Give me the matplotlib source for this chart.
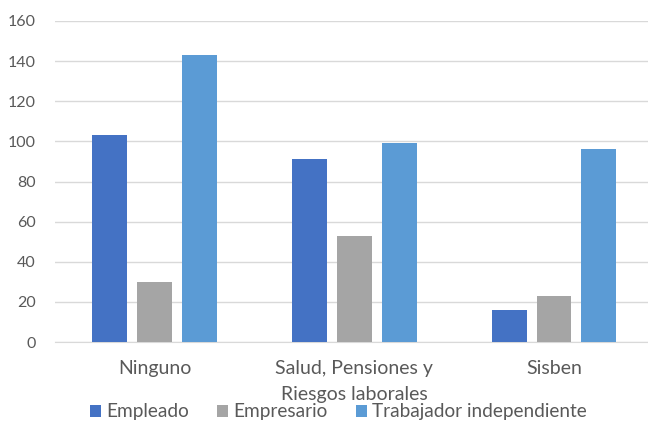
import matplotlib.pyplot as plt
import numpy as np

categorias = ['Ninguno', 'Salud, Pensiones y\nRiesgos laborales', 'Sisben']
series = ['Empleado', 'Empresario', 'Trabajador independiente']
empleado = [103, 91, 16]
empresario = [30, 53, 23]
independiente = [143, 99, 96]
colores = ['#4472C4', '#A5A5A5', '#5B9BD5']

plt.rcParams['font.family'] = ['Lato', 'DejaVu Sans']

fig = plt.figure(figsize=(6.48, 4.22), dpi=100)
ax = fig.add_axes([55 / 648, 1 - 342 / 422, (653.8 - 55) / 648, (342 - 21) / 422])

x = np.arange(len(categorias))
ancho = 0.175
paso = 0.225
for i, (nombre, vals) in enumerate(zip(series, [empleado, empresario, independiente])):
    ax.bar(x + (i - 1) * paso, vals, ancho, color=colores[i], label=nombre, zorder=3)

ax.set_xlim(-0.5, 2.5)
ax.set_ylim(0, 160)
ax.set_yticks(range(0, 161, 20))
ax.set_xticks(x)
ax.set_xticklabels(categorias, linespacing=1.65)
ax.grid(axis='y', color='#D9D9D9', linewidth=1, zorder=0)
for s in ['top', 'right', 'left']:
    ax.spines[s].set_visible(False)
ax.spines['bottom'].set_color('#D9D9D9')
ax.tick_params(axis='both', length=0, colors='#595959')
ax.tick_params(axis='y', pad=14, labelsize=11.5)
ax.tick_params(axis='x', pad=13, labelsize=14)

fig.legend(loc='center', bbox_to_anchor=(0.522, 1 - 412 / 422), ncol=3, frameon=False,
           fontsize=13.7, labelcolor='#595959', handlelength=0.6, handleheight=0.6,
           handletextpad=0.25, columnspacing=1.5)

fig.savefig('out.png', dpi=100)
